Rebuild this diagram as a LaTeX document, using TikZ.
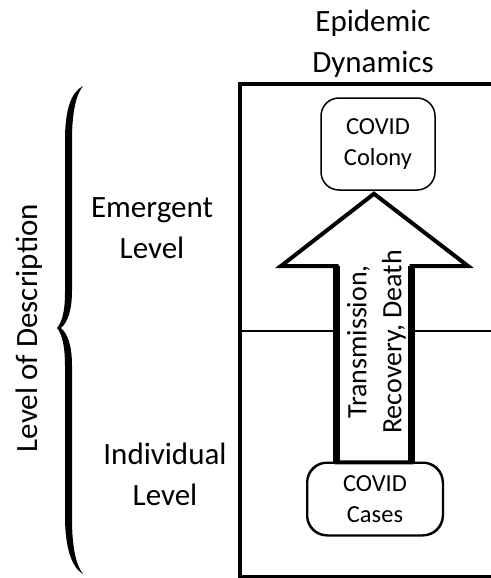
\documentclass[tikz,border=0pt]{standalone}
\usepackage{fontspec}
\setmainfont{Carlito}
\usetikzlibrary{calc}
\usetikzlibrary{positioning}

\tikzset{
  levelname/.style={inner sep=0, align=center, font=\fontsize{31}{41}\selectfont},
  casebox/.style={draw, line width=1.5pt, rounded corners=18pt, align=center, inner sep=0,
    font=\fontsize{24.5}{31}\selectfont},
  flowtext/.style={inner sep=0, align=center, rotate=90, font=\fontsize{28}{35}\selectfont}
}

\begin{document}
\begin{tikzpicture}[x=1pt, y=-1pt]
\useasboundingbox (0,0) rectangle (490,578);
\coordinate (NE) at (492,84);
\coordinate (NW) at (240,84);
\coordinate (SW) at (240,577);
\coordinate (SE) at (492,577);
\coordinate (ML) at (240,331);
\coordinate (MR) at (492,331);

\draw[line width=4pt] (NE) -- (NW) -- (SW) -- (SE);
\draw[line width=2pt] (ML) -- (MR);

\node[levelname, anchor=north] (epi) at (373,10) {Epidemic\\Dynamics};
\node[levelname, anchor=north] (emergent) at (152,197) {Emergent\\Level};
\node[levelname, anchor=north] (indiv) at (165,443) {Individual\\Level};
\node[levelname, rotate=90, anchor=base] (desc) at (37,328) {Level of Description};

\node[casebox, minimum width=114pt, minimum height=92pt] (colony) at (378,144) {COVID\\Colony};
\node[casebox, minimum width=135pt, minimum height=72pt, rounded corners=20pt] (cases) at (375,499) {COVID\\Cases};

\coordinate (tip) at ($(colony.south)+(-4,3)$);
\coordinate (sbl) at ($(cases.north)+(-38.5,0)$);
\coordinate (sbr) at ($(cases.north)+(36.5,0)$);
\coordinate (stl) at (sbl |- 0,266);
\coordinate (str) at (sbr |- 0,266);
\coordinate (hl) at (281,266);
\coordinate (hr) at (468,266);

\filldraw[fill=white, line width=4pt, line join=miter] (sbl) -- (stl) -- (hl) -- (tip) -- (hr) -- (str) -- (sbr) -- cycle;
\draw[line width=7pt] (sbl) -- (stl);
\draw[line width=7pt] (sbr) -- (str);
\draw[line width=1.5pt, rounded corners=20pt] (cases.south west) rectangle (cases.north east);

\node[flowtext, anchor=north] (flow) at (347,342) {Transmission,\\Recovery, Death};

\fill (83,86) .. controls (71,92) and (65,110) .. (65,140) -- (65,292)
  .. controls (65,312) and (62,322) .. (57,328)
  .. controls (62,334) and (65,346) .. (65,366) -- (65,516)
  .. controls (65,546) and (71,567) .. (83,574)
  .. controls (76,565) and (72,548) .. (72,518) -- (72,366)
  .. controls (72,346) and (68,334) .. (61,328)
  .. controls (68,322) and (72,310) .. (72,290) -- (72,140)
  .. controls (72,112) and (76,95) .. (83,86) -- cycle;
\end{tikzpicture}
\end{document}
